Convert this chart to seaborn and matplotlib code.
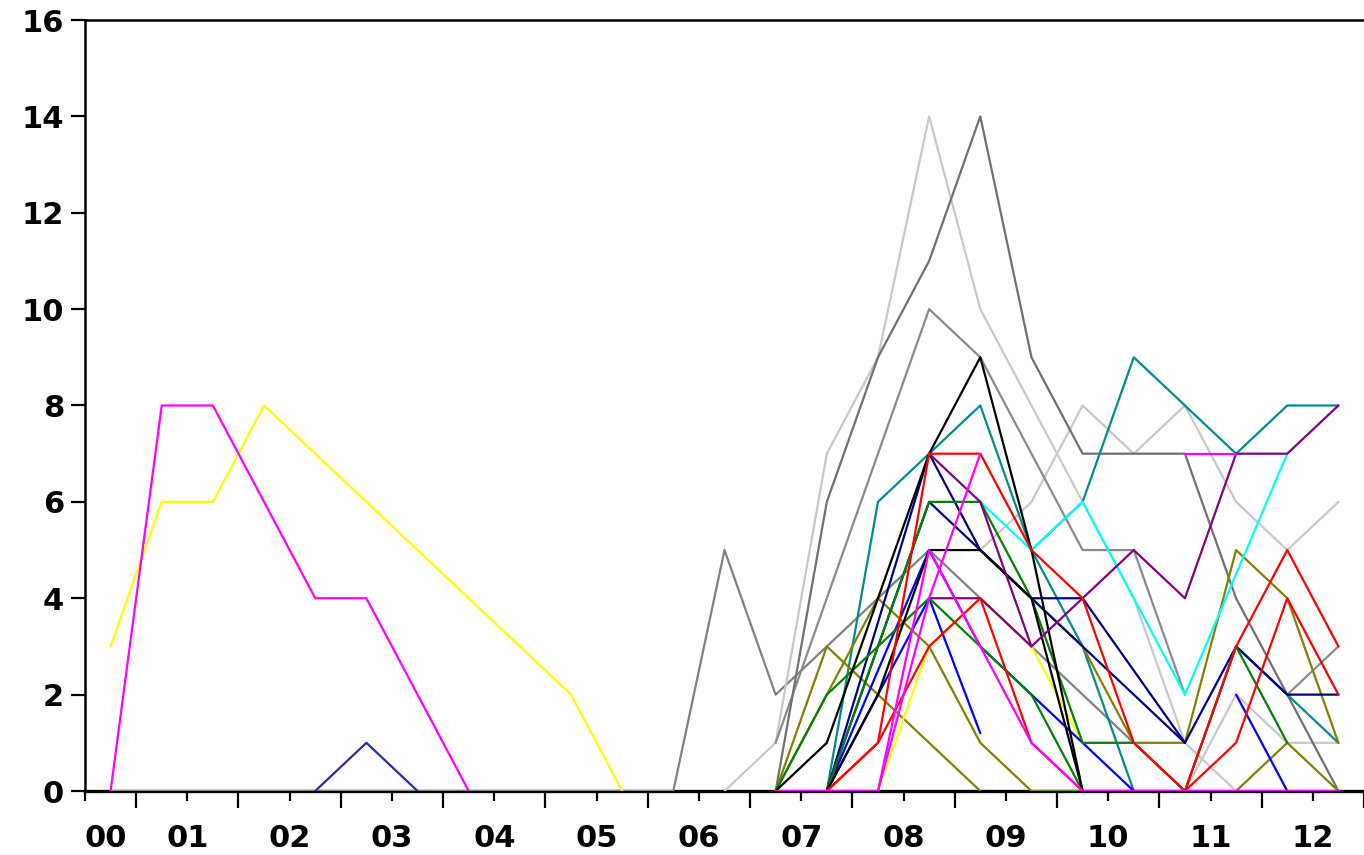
import numpy as np
import pandas as pd
import matplotlib
matplotlib.use("Agg")
import matplotlib.pyplot as plt
import seaborn as sns

N = None
# x-axis period labels (two observations per period, plotted at the period quarter points)
x_labels = ["00", "01", "02", "03", "04", "05", "06", "07", "08", "09", "10", "11", "12"]
n_obs = 25

# ---- series values, one entry per observation (None = no value) ----
#                 0  1  2  3  4  5  6  7  8  9 10 11 12 13 14 15 16 17 18 19 20 21 22 23 24
magenta_a    = [0, 8, 8, 6, 4, 4, 2, 0, N, N, N, N, N, N, N, N, N, N, N, N, N, N, N, N, N]
yellow_a     = [3, 6, 6, 8, 7, 6, 5, 4, 3, 2, 0, N, N, N, N, N, N, N, N, N, N, N, N, N, N]
navy_a       = [N, N, N, N, 0, 1, 0, N, N, N, N, N, N, N, N, N, N, N, N, N, N, N, N, N, N]
gray_a       = [0, 0, 0, 0, 0, 0, 0, 0, 0, 0, 0, 0, 5, 2, 3, 4, 5, 4, 3, 2, 1, 0, N, N, N]
lgray_a      = [N, N, N, N, N, N, N, N, N, N, N, N, 0, 1, 7, 9, 14, 10, 8, 6, 4, 1, 0, N, N]
lgray_b      = [N, N, N, N, N, N, N, N, N, N, N, N, N, N, N, N, N, 5, 6, 8, 7, 8, 6, 5, 6]
lgray_c      = [N, N, N, N, N, N, N, N, N, N, N, N, N, N, N, N, N, N, N, N, N, 0, 2, 1, 1]
gray_b       = [N, N, N, N, N, N, N, N, N, N, N, N, N, 1, 4, 7, 10, 9, 7, 5, 5, 2, N, N, N]
dgray_a      = [N, N, N, N, N, N, N, N, N, N, N, N, N, 0, 6, 9, 11, 14, 9, 7, 7, 7, 4, 2, 0]
gray_c       = [N, N, N, N, N, N, N, N, N, N, N, N, N, N, N, N, N, N, N, N, N, 0, 3, 2, 3]
teal_a       = [N, N, N, N, N, N, N, N, N, N, N, N, N, N, 0, 6, 7, 8, 5, 3, 0, N, N, N, N]
teal_b       = [N, N, N, N, N, N, N, N, N, N, N, N, N, N, N, N, N, N, 5, 6, 9, 8, 7, 8, 8]
teal_c       = [N, N, N, N, N, N, N, N, N, N, N, N, N, N, N, N, N, N, N, N, N, N, 3, 2, 1]
olive_a      = [N, N, N, N, N, N, N, N, N, N, N, N, N, 0, 3, 2, 1, 0, N, N, N, N, N, N, N]
olive_b      = [N, N, N, N, N, N, N, N, N, N, N, N, N, 0, 2, 4, 3, 1, 0, 0, N, N, N, N, N]
olive_c      = [N, N, N, N, N, N, N, N, N, N, N, N, N, N, N, N, N, 5, 4, 3, 1, 1, 5, 4, 1]
olive_d      = [N, N, N, N, N, N, N, N, N, N, N, N, N, N, N, N, N, N, N, N, N, N, 0, 1, 0]
yellow_b     = [N, N, N, N, N, N, N, N, N, N, N, N, N, N, N, 0, 3, 4, 3, 1, N, N, N, N, N]
navy_b       = [N, N, N, N, N, N, N, N, N, N, N, N, N, N, 0, 3.5, 7, 5, 4, 4, 2.5, 1, 3, 2, 2]
navy_c       = [N, N, N, N, N, N, N, N, N, N, N, N, N, N, 0, 3, 6, 5, 4, 3, 2, 1, N, N, N]
blue_a       = [N, N, N, N, N, N, N, N, N, N, N, N, N, N, 0, 2, 4, 1.2, N, N, N, N, N, N, N]
blue_b       = [N, N, N, N, N, N, N, N, N, N, N, N, N, N, 0, 2.5, 5, 3, 2, 1, 0, N, N, N, N]
blue_c       = [N, N, N, N, N, N, N, N, N, N, N, N, N, N, N, N, N, N, N, N, N, N, 2, 0, N]
green_a      = [N, N, N, N, N, N, N, N, N, N, N, N, N, N, 0, 3, 6, 6, 4, 1, 1, 0, 3, 1, N]
green_b      = [N, N, N, N, N, N, N, N, N, N, N, N, N, 0, 2, 3, 4, 3, 2, 0, N, N, N, N, N]
black_a      = [N, N, N, N, N, N, N, N, N, N, N, N, N, 0, 1, 4, 7, 9, 5, 0, N, N, N, N, N]
black_b      = [N, N, N, N, N, N, N, N, N, N, N, N, N, N, 0, 2, 5, 5, 4, 0, N, N, N, N, N]
cyan_a       = [N, N, N, N, N, N, N, N, N, N, N, N, N, N, N, N, N, 6, 5, 6, 4, 2, 4.5, 7, N]
purple_a     = [N, N, N, N, N, N, N, N, N, N, N, N, N, N, N, N, 7, 6, 3, 4, 5, 4, 7, 7, 8]
purple_b     = [N, N, N, N, N, N, N, N, N, N, N, N, N, N, N, N, 4, 4, 3, N, N, N, N, N, N]
red_a        = [N, N, N, N, N, N, N, N, N, N, N, N, N, N, 0, 1, 7, 7, 5, 4, 1, 0, 1, 4, 2]
red_b        = [N, N, N, N, N, N, N, N, N, N, N, N, N, N, 0, 1, 3, 4, 1, 0, 0, 0, 3, 5, 3]
magenta_b    = [N, N, N, N, N, N, N, N, N, N, N, N, N, 0, 0, 0, 5, 3, 1, 0, 0, 0, 0, 0, 0]
magenta_c    = [N, N, N, N, N, N, N, N, N, N, N, N, N, N, 0, 0, 4, 7, N, N, N, N, N, N, N]
magenta_d    = [N, N, N, N, N, N, N, N, N, N, N, N, N, N, N, N, N, N, N, N, N, 7, 7, N, N]

series = {
    "gray_a": (gray_a, "#808080"),
    "lgray_a": (lgray_a, "#C8C8C8"),
    "lgray_b": (lgray_b, "#C8C8C8"),
    "lgray_c": (lgray_c, "#C8C8C8"),
    "gray_b": (gray_b, "#8A8A8A"),
    "dgray_a": (dgray_a, "#707070"),
    "gray_c": (gray_c, "#8A8A8A"),
    "yellow_a": (yellow_a, "#FFFF00"),
    "magenta_a": (magenta_a, "#FF00FF"),
    "navy_a": (navy_a, "#2B2B9A"),
    "teal_a": (teal_a, "#008B8B"),
    "teal_b": (teal_b, "#008B8B"),
    "teal_c": (teal_c, "#008B8B"),
    "olive_a": (olive_a, "#808000"),
    "olive_b": (olive_b, "#808000"),
    "olive_c": (olive_c, "#808000"),
    "olive_d": (olive_d, "#808000"),
    "yellow_b": (yellow_b, "#FFFF00"),
    "cyan_a": (cyan_a, "#00FFFF"),
    "navy_b": (navy_b, "#000080"),
    "navy_c": (navy_c, "#000080"),
    "blue_a": (blue_a, "#0000FF"),
    "blue_b": (blue_b, "#0000FF"),
    "blue_c": (blue_c, "#0000FF"),
    "green_a": (green_a, "#008000"),
    "green_b": (green_b, "#008000"),
    "black_a": (black_a, "#000000"),
    "black_b": (black_b, "#000000"),
    "purple_a": (purple_a, "#800080"),
    "purple_b": (purple_b, "#800080"),
    "magenta_d": (magenta_d, "#FF00FF"),
    "red_a": (red_a, "#FF0000"),
    "red_b": (red_b, "#FF0000"),
    "magenta_c": (magenta_c, "#FF00FF"),
    "magenta_b": (magenta_b, "#FF00FF"),
}

# observation positions: quarter points of each period on the labelled axis
obs_pos = np.arange(n_obs) * 0.5 + 0.25

rows = []
for name, (vals, _c) in series.items():
    for j, v in enumerate(vals):
        if v is not None:
            rows.append({"series": name, "x": obs_pos[j], "value": v})
df = pd.DataFrame(rows)
palette = {name: c for name, (_v, c) in series.items()}
order = list(series.keys())

sns.set_style("white")
plt.rcParams["font.family"] = ["DejaVu Sans"]

fig = plt.figure(figsize=(13.64, 8.55), dpi=100)
ax = fig.add_axes([85 / 1364, 64 / 855, 1 - 85 / 1364, (791 - 20) / 855])

sns.lineplot(data=df, x="x", y="value", hue="series", hue_order=order,
             palette=palette, legend=False, estimator=None, errorbar=None,
             sort=True, linewidth=1.6, ax=ax)
for ln in ax.lines:
    ln.set_zorder(3)

ax.set_xlim(0, 12.448)
ax.set_ylim(0, 16)
ax.set_xlabel("")
ax.set_ylabel("")

ax.set_yticks(np.arange(0, 17, 2))
ax.set_yticklabels([str(v) for v in range(0, 17, 2)])
ax.set_xticks(np.arange(len(x_labels)))
ax.set_xticklabels(x_labels)
ax.set_xticks(np.arange(len(x_labels)) + 0.5, minor=True)

for lab in ax.get_xticklabels() + ax.get_yticklabels():
    lab.set_fontweight("heavy")
    lab.set_fontsize(22)
    lab.set_color("black")
ax.get_xticklabels()[0].set_horizontalalignment("left")

ax.tick_params(axis="y", which="major", direction="out", length=10, width=1.6,
               color="black", pad=5, left=True, labelcolor="black")
ax.tick_params(axis="x", which="major", direction="out", length=7.5, width=1.6,
               color="black", pad=16, bottom=True, labelcolor="black")
ax.tick_params(axis="x", which="minor", direction="out", length=12, width=1.6,
               color="black", bottom=True)

for side in ["left", "bottom", "top"]:
    ax.spines[side].set_visible(True)
    ax.spines[side].set_color("black")
    ax.spines[side].set_linewidth(1.8)
ax.spines["bottom"].set_linewidth(2.4)
ax.spines["right"].set_visible(False)
ax.grid(False)

fig.savefig("out.png", dpi=100)
